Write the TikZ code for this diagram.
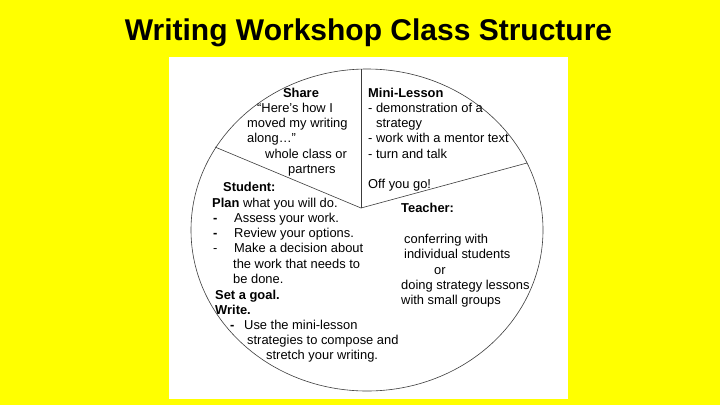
\documentclass[tikz,border=0pt]{standalone}
\usepackage{fontspec}
\setmainfont{Liberation Sans}
\definecolor{bgyellow}{RGB}{255,255,0}
\definecolor{linegray}{RGB}{60,60,60}
\begin{document}
\begin{tikzpicture}[x=1pt,y=-1pt,
  txt/.style={anchor=west,inner sep=0pt,font=\fontsize{12.9}{15}\selectfont,text height=9.2pt,text depth=2.5pt},
  hdr/.style={txt,font=\fontsize{12.9}{15}\selectfont\bfseries},
  spoke/.style={draw=linegray,line width=0.6pt}]
\useasboundingbox (0,0) rectangle (720,405);
\fill[bgyellow] (0,0) rectangle (720,405);
\fill[white] (169,57) rectangle (568,399);
\node[font=\fontsize{30}{34}\selectfont\bfseries,inner sep=0pt] (title) at (368.5,33) {Writing Workshop Class Structure};
\draw[linegray,line width=0.6pt] (367,230) ellipse [x radius=176pt, y radius=161pt];
\coordinate (c) at (361,208);
\coordinate (top) at (361,69);
\coordinate (lft) at (215,147);
\coordinate (rgt) at (527,163);
\draw[spoke] (c) -- (top);
\draw[spoke] (c) -- (lft);
\draw[spoke] (c) -- (rgt);
% Share
\node[hdr,anchor=center] (share) at (301,94) {Share};
\node[txt] (s1) at (257,109) {“Here’s how I};
\node[txt] (s2) at (247,124) {moved my writing};
\node[txt] (s3) at (247,139) {along…”};
\node[txt] (s4) at (265,155) {whole class or};
\node[txt] (s5) at (288,170) {partners};
% Mini-lesson
\node[hdr] (ml) at (368,94) {Mini-Lesson};
\node[txt] (m1) at (368,109) {- demonstration of a};
\node[txt] (m2) at (376,124) {strategy};
\node[txt] (m3) at (368,139) {- work with a mentor text};
\node[txt] (m4) at (368,155) {- turn and talk};
\node[txt] (m5) at (368,185) {Off you go!};
% Teacher
\node[hdr] (tc) at (401,209) {Teacher:};
\node[txt] (t1) at (404,240) {conferring with};
\node[txt] (t2) at (404,255) {individual students};
\node[txt] (t3) at (434,271) {or};
\node[txt] (t4) at (401,286) {doing strategy lessons};
\node[txt] (t5) at (401,301) {with small groups};
% Student
\node[hdr] (st) at (223,188) {Student:};
\node[txt] (p0) at (212,204) {\textbf{Plan} what you will do.};
\node[hdr] (d1) at (213,219) {-};
\node[txt] (p1) at (234,219) {Assess your work.};
\node[hdr] (d2) at (213,234) {-};
\node[txt] (p2) at (234,234) {Review your options.};
\node[txt] (d3) at (213,249) {-};
\node[txt] (p3) at (234,249) {Make a decision about};
\node[txt] (p4) at (233,265) {the work that needs to};
\node[txt] (p5) at (233,280) {be done.};
\node[hdr] (g) at (215,296) {Set a goal.};
\node[hdr] (w) at (215,311) {Write.};
\node[hdr] (d4) at (230,326) {-};
\node[txt] (u1) at (244,326) {Use the mini-lesson};
\node[txt] (u2) at (247,341) {strategies to compose and};
\node[txt] (u3) at (266,356) {stretch your writing.};
\end{tikzpicture}
\end{document}
